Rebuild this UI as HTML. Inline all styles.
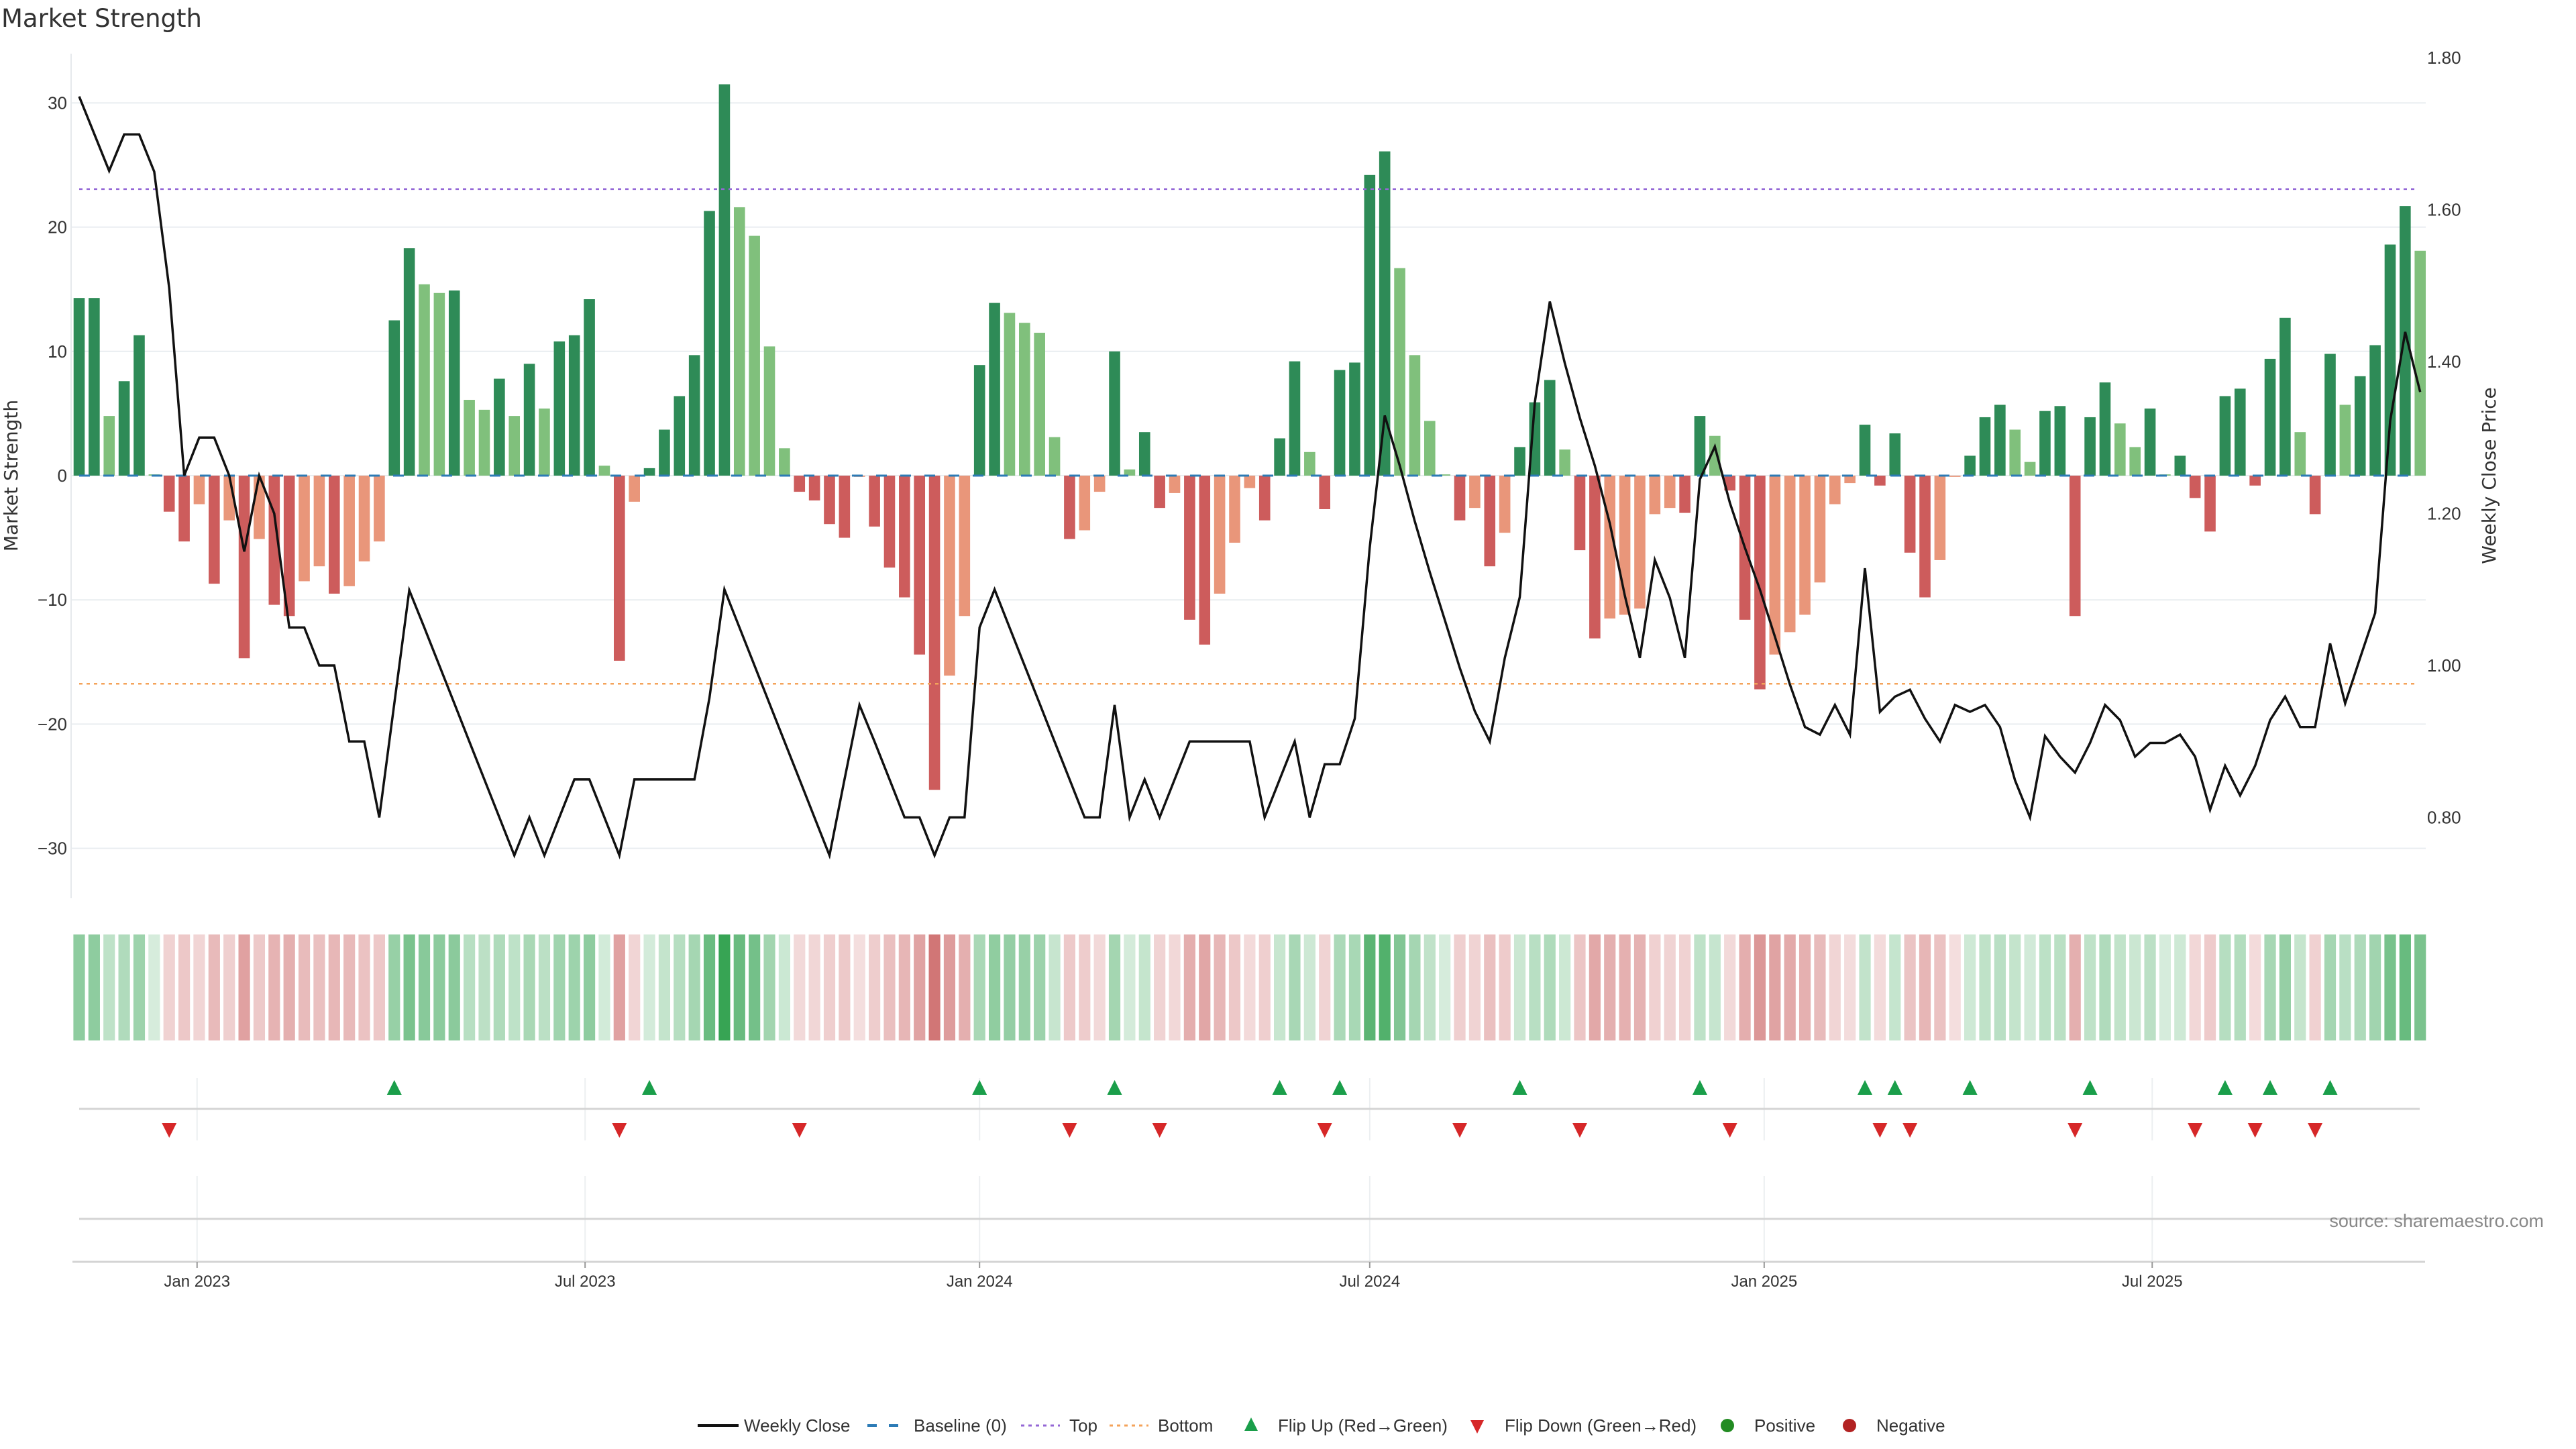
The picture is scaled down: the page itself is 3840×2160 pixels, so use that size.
<!DOCTYPE html>
<html><head><meta charset="utf-8"><title>Market Strength</title>
<style>
html,body{margin:0;padding:0;background:#fff;}
svg{display:block;font-family:"Liberation Sans","DejaVu Sans",sans-serif;}
.dv{font-family:"DejaVu Sans","Liberation Sans",sans-serif;}
</style></head>
<body>
<svg id="chart" width="3840" height="2160" viewBox="0 0 3840 2160" xmlns="http://www.w3.org/2000/svg">
<rect width="3840" height="2160" fill="#fff"/>
<text x="2" y="40" font-size="37" fill="#333" class="dv">Market Strength</text>
<g id="grid"></g>
<g id="bars"></g>
<g id="refs"></g>
<g id="line"></g>
<g id="strip"></g>
<g id="markers"></g>
<g id="axes"></g>
<g id="legend"></g>
</svg>
<script>
const strength = [14.3,14.3,4.8,7.6,11.3,0.1,-2.9,-5.3,-2.3,-8.7,-3.6,-14.7,-5.1,-10.4,-11.3,-8.5,-7.3,-9.5,-8.9,-6.9,-5.3,12.5,18.3,15.4,14.7,14.9,6.1,5.3,7.8,4.8,9.0,5.4,10.8,11.3,14.2,0.8,-14.9,-2.1,0.6,3.7,6.4,9.7,21.3,31.5,21.6,19.3,10.4,2.2,-1.3,-2.0,-3.9,-5.0,-0.1,-4.1,-7.4,-9.8,-14.4,-25.3,-16.1,-11.3,8.9,13.9,13.1,12.3,11.5,3.1,-5.1,-4.4,-1.3,10.0,0.5,3.5,-2.6,-1.4,-11.6,-13.6,-9.5,-5.4,-1.0,-3.6,3.0,9.2,1.9,-2.7,8.5,9.1,24.2,26.1,16.7,9.7,4.4,0.1,-3.6,-2.6,-7.3,-4.6,2.3,5.9,7.7,2.1,-6.0,-13.1,-11.5,-11.2,-10.7,-3.1,-2.6,-3.0,4.8,3.2,-1.2,-11.6,-17.2,-14.4,-12.6,-11.2,-8.6,-2.3,-0.6,4.1,-0.8,3.4,-6.2,-9.8,-6.8,-0.1,1.6,4.7,5.7,3.7,1.1,5.2,5.6,-11.3,4.7,7.5,4.2,2.3,5.4,0.1,1.6,-1.8,-4.5,6.4,7.0,-0.8,9.4,12.7,3.5,-3.1,9.8,5.7,8.0,10.5,18.6,21.7,18.1];
const closes = [1.749,1.70,1.651,1.699,1.699,1.65,1.497,1.25,1.30,1.30,1.25,1.15,1.25,1.20,1.05,1.05,1.00,1.00,0.90,0.90,0.80,0.95,1.099,1.05,1.00,0.95,0.90,0.85,0.80,0.75,0.80,0.75,0.80,0.85,0.85,0.80,0.75,0.85,0.85,0.85,0.85,0.85,0.957,1.10,1.05,1.00,0.95,0.90,0.85,0.80,0.75,0.85,0.948,0.90,0.85,0.80,0.80,0.75,0.80,0.80,1.05,1.10,1.05,1.00,0.95,0.90,0.85,0.80,0.80,0.948,0.80,0.85,0.80,0.85,0.90,0.90,0.90,0.90,0.90,0.80,0.85,0.90,0.80,0.87,0.87,0.93,1.155,1.329,1.263,1.19,1.123,1.06,0.997,0.94,0.90,1.01,1.09,1.346,1.479,1.398,1.326,1.263,1.187,1.092,1.01,1.139,1.089,1.01,1.245,1.288,1.214,1.155,1.10,1.038,0.975,0.919,0.909,0.948,0.909,1.128,0.939,0.959,0.968,0.93,0.90,0.948,0.939,0.948,0.919,0.849,0.80,0.907,0.88,0.859,0.898,0.948,0.928,0.88,0.898,0.898,0.909,0.88,0.81,0.868,0.829,0.868,0.928,0.959,0.919,0.919,1.029,0.95,1.01,1.069,1.322,1.439,1.36];
const leftTicks = [30,20,10,0,-10,-20,-30];
const rightTicks = [1.80,1.60,1.40,1.20,1.00,0.80];
const dateTicks = ["2023-01-01","2023-07-01","2024-01-01","2024-07-01","2025-01-01","2025-07-01"];
const dateLabels = ["Jan 2023","Jul 2023","Jan 2024","Jul 2024","Jan 2025","Jul 2025"];
const startDate = "2022-11-07";
const topLevel = 23.06;
const bottomLevel = -16.75;

const NS = "http://www.w3.org/2000/svg";
function mk(tag, attrs, parent, text){
  const e = document.createElementNS(NS, tag);
  for (const k in attrs) e.setAttribute(k, attrs[k]);
  if (text !== undefined) e.textContent = text;
  parent.appendChild(e);
  return e;
}
const X0 = 118, STEP = 22.37, PXDAY = STEP/7;
const xIdx = i => X0 + STEP*i;
const t0 = Date.parse(startDate);
const xDate = d => X0 + (Date.parse(d) - t0)/86400000*PXDAY;
const yS = v => 709 - v*18.52;
const yP = p => 992 - (p-1)*1132.5;
const minus = v => (v<0 ? "\u2212"+Math.abs(v) : String(v));

const G = id => document.getElementById(id);
const grid = G('grid'), bars = G('bars'), refs = G('refs'), lineG = G('line'), strip = G('strip'), markers = G('markers'), axes = G('axes'), legend = G('legend');

leftTicks.forEach(v => {
  const gl = mk('line',{x1:106,x2:3616,y1:yS(v),y2:yS(v),stroke:'#e9edf0','stroke-width':2},grid);
  
  
  const t = mk('text',{x:100,y:yS(v)+9,'font-size':26,'text-anchor':'end',fill:'#333'},axes,minus(v));
  
  
});
rightTicks.forEach(p => {
  const t = mk('text',{x:3618,y:yP(p)+9,'font-size':26,fill:'#333'},axes,p.toFixed(2));
  
  
});
const la = mk('line',{x1:106,x2:106,y1:80,y2:1339,stroke:'#e6e9ec','stroke-width':2},axes);


const yt = mk('text',{x:0,y:0,'font-size':28,'text-anchor':'middle',fill:'#333',class:'dv',transform:'translate(26,709) rotate(-90)'},axes,'Market Strength');


const yt2 = mk('text',{x:0,y:0,'font-size':28,'text-anchor':'middle',fill:'#333',class:'dv',transform:'translate(3720,709) rotate(-90)'},axes,'Weekly Close Price');



strength.forEach((v,i) => {
  const prev = i>0 ? strength[i-1] : 0;
  let col;
  if (v >= 0) col = (v >= prev) ? '#2e8b57' : '#80c07c';
  else col = (v <= prev) ? '#cd5c5c' : '#e9967a';
  const y = Math.min(yS(v), yS(0)), h = Math.abs(yS(v)-yS(0));
  const b = mk('rect',{x:xIdx(i)-8.3,y:y,width:16.6,height:Math.max(h,0.5),fill:col},bars);
  
  
  const t = Math.min(Math.abs(v)/32,1), a = 0.2+0.8*t;
  const base = v >= 0 ? [52,163,82] : [200,90,90];
  const c = base.map(k => Math.round(255 - a*(255-k)));
  const s = mk('rect',{x:xIdx(i)-8.6,y:1393,width:17.2,height:158,fill:`rgb(${c[0]},${c[1]},${c[2]})`},strip);
  
  
  if (i>0 && v>0 && prev<=0){
    const m = mk('path',{d:`M${xIdx(i)},1610 l-11,22 h22 z`,fill:'#1a9e4a'},markers);
    
    
  }
  if (i>0 && v<0 && prev>=0){
    const m = mk('path',{d:`M${xIdx(i)},1696 l-11,-22 h22 z`,fill:'#d62728'},markers);
    
    
  }
});

const bl = mk('line',{x1:118,x2:3604,y1:yS(0),y2:yS(0),stroke:'#2c7bb6','stroke-width':3,'stroke-dasharray':'16 20'},refs);


const tl = mk('line',{x1:118,x2:3604,y1:yS(topLevel),y2:yS(topLevel),stroke:'#9467d6','stroke-width':2.5,'stroke-dasharray':'5 6'},refs);


const btl = mk('line',{x1:118,x2:3604,y1:yS(bottomLevel),y2:yS(bottomLevel),stroke:'#f4a35a','stroke-width':2.5,'stroke-dasharray':'5 6'},refs);



const pts = closes.map((p,i) => `${xIdx(i).toFixed(1)},${yP(p).toFixed(1)}`).join(' ');
const pl = mk('polyline',{points:pts,fill:'none',stroke:'#111','stroke-width':3.5,'stroke-linejoin':'miter'},lineG);



const mline = mk('line',{x1:118,x2:3607,y1:1653,y2:1653,stroke:'#d4d4d4','stroke-width':3},axes);


const pline = mk('line',{x1:118,x2:3615,y1:1817,y2:1817,stroke:'#d4d4d4','stroke-width':3},axes);


const xa = mk('line',{x1:108,x2:3615,y1:1881,y2:1881,stroke:'#d4d4d4','stroke-width':3},axes);


dateTicks.forEach((d,k) => {
  const x = xDate(d);
  const g1 = mk('line',{x1:x,x2:x,y1:1607,y2:1700,stroke:'#eceff1','stroke-width':2},grid);
  
  
  const g2 = mk('line',{x1:x,x2:x,y1:1753,y2:1880,stroke:'#eceff1','stroke-width':2},grid);
  
  
  const tk = mk('line',{x1:x,x2:x,y1:1881,y2:1890,stroke:'#999','stroke-width':2},axes);
  
  
  const tx = mk('text',{x:x,y:1918,'font-size':24,'text-anchor':'middle',fill:'#333'},axes,dateLabels[k]);
  
  
});
const src = mk('text',{x:3792,y:1829,'font-size':27,'text-anchor':'end',fill:'#888'},axes,'source: sharemaestro.com');



const LY = 2125;
function legText(x, s){
  const t = mk('text',{x:x,y:LY+9,'font-size':26,fill:'#333'},legend,s);
  
  
}
let e;
e = mk('line',{x1:1040,x2:1101,y1:LY,y2:LY,stroke:'#111','stroke-width':4},legend);
 
legText(1109,'Weekly Close');
e = mk('line',{x1:1293,x2:1344,y1:LY,y2:LY,stroke:'#2c7bb6','stroke-width':4,'stroke-dasharray':'14 18'},legend);
 
legText(1362,'Baseline (0)');
e = mk('line',{x1:1522,x2:1580,y1:LY,y2:LY,stroke:'#9467d6','stroke-width':3,'stroke-dasharray':'5 6'},legend);
 
legText(1594,'Top');
e = mk('line',{x1:1654,x2:1712,y1:LY,y2:LY,stroke:'#f4a35a','stroke-width':3,'stroke-dasharray':'5 6'},legend);
 
legText(1726,'Bottom');
e = mk('path',{d:`M1865,${LY-12} l-10,20 h20 z`,fill:'#1a9e4a'},legend);
 
legText(1905,'Flip Up (Red\u2192Green)');
e = mk('path',{d:`M2202,${LY+12} l-10,-20 h20 z`,fill:'#d62728'},legend);
 
legText(2243,'Flip Down (Green\u2192Red)');
e = mk('circle',{cx:2575,cy:LY,r:10,fill:'#228b22'},legend);
 
legText(2615,'Positive');
e = mk('circle',{cx:2757,cy:LY,r:10,fill:'#b22222'},legend);
 
legText(2797,'Negative');
</script>
</body></html>
